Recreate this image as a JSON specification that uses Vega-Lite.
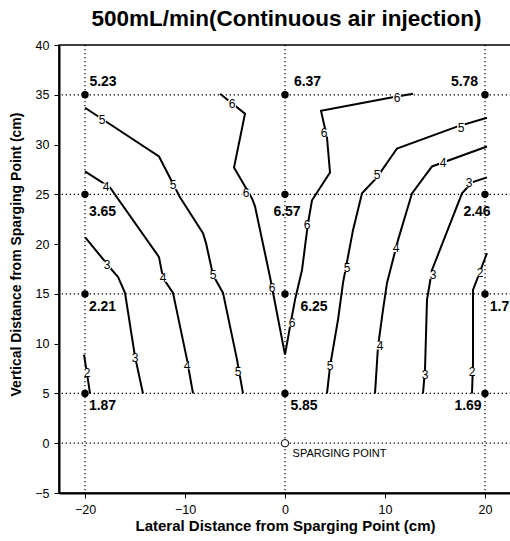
{
  "$schema": "https://vega.github.io/schema/vega-lite/v6.json",
  "width": 452,
  "height": 448,
  "autosize": {"type": "none"},
  "padding": {"left": 59, "top": 45, "right": 0, "bottom": 48},
  "background": "white",
  "config": {
    "font": "Liberation Sans",
    "view": {"stroke": "black", "strokeWidth": 1.5}
  },
  "title": {
    "text": "500mL/min(Continuous air injection)",
    "fontSize": 22.5,
    "fontWeight": "bold",
    "color": "black",
    "anchor": "middle",
    "dx": 1.5,
    "offset": 9
  },
  "datasets": {
    "contours": [
      {"c": "c5L", "o": 1, "x": -20, "y": 33.7},
      {"c": "c5L", "o": 2, "x": -12.6, "y": 28.8},
      {"c": "c5L", "o": 3, "x": -10.5, "y": 24.7},
      {"c": "c5L", "o": 4, "x": -8.2, "y": 21.1},
      {"c": "c5L", "o": 5, "x": -7.9, "y": 20.1},
      {"c": "c5L", "o": 6, "x": -7.2, "y": 16.9},
      {"c": "c5L", "o": 7, "x": -6.2, "y": 15.1},
      {"c": "c5L", "o": 8, "x": -4.8, "y": 8.4},
      {"c": "c5L", "o": 9, "x": -4.2, "y": 5},
      {"c": "c4L", "o": 1, "x": -20, "y": 27.3},
      {"c": "c4L", "o": 2, "x": -17.5, "y": 25.7},
      {"c": "c4L", "o": 3, "x": -12.6, "y": 18.7},
      {"c": "c4L", "o": 4, "x": -12.2, "y": 16.6},
      {"c": "c4L", "o": 5, "x": -11.2, "y": 15.1},
      {"c": "c4L", "o": 6, "x": -9.8, "y": 8.4},
      {"c": "c4L", "o": 7, "x": -9.2, "y": 5},
      {"c": "c3L", "o": 1, "x": -20, "y": 20.7},
      {"c": "c3L", "o": 2, "x": -17.3, "y": 17.4},
      {"c": "c3L", "o": 3, "x": -16.7, "y": 16.7},
      {"c": "c3L", "o": 4, "x": -16, "y": 15.1},
      {"c": "c3L", "o": 5, "x": -15, "y": 8.7},
      {"c": "c3L", "o": 6, "x": -14.2, "y": 5},
      {"c": "c2L", "o": 1, "x": -20.1, "y": 8.9},
      {"c": "c2L", "o": 2, "x": -19.8, "y": 7},
      {"c": "c2L", "o": 3, "x": -19.5, "y": 5},
      {"c": "c6", "o": 1, "x": -6.5, "y": 35.1},
      {"c": "c6", "o": 2, "x": -4, "y": 33.1},
      {"c": "c6", "o": 3, "x": -5.1, "y": 27.7},
      {"c": "c6", "o": 4, "x": -3.3, "y": 24.6},
      {"c": "c6", "o": 5, "x": -3, "y": 23.8},
      {"c": "c6", "o": 6, "x": -1.5, "y": 16.7},
      {"c": "c6", "o": 7, "x": 0, "y": 8.9},
      {"c": "c6", "o": 8, "x": 0.5, "y": 11.7},
      {"c": "c6", "o": 9, "x": 1, "y": 14.4},
      {"c": "c6", "o": 10, "x": 1.7, "y": 17.4},
      {"c": "c6", "o": 11, "x": 2.3, "y": 22.1},
      {"c": "c6", "o": 12, "x": 2.7, "y": 24.4},
      {"c": "c6", "o": 13, "x": 4.5, "y": 27.2},
      {"c": "c6", "o": 14, "x": 4.2, "y": 30.7},
      {"c": "c6", "o": 15, "x": 3.6, "y": 33.4},
      {"c": "c6", "o": 16, "x": 10.5, "y": 34.7},
      {"c": "c6", "o": 17, "x": 12.8, "y": 35.1},
      {"c": "c5R", "o": 1, "x": 4.2, "y": 5},
      {"c": "c5R", "o": 2, "x": 4.5, "y": 7.7},
      {"c": "c5R", "o": 3, "x": 5.3, "y": 12.4},
      {"c": "c5R", "o": 4, "x": 5.8, "y": 16.1},
      {"c": "c5R", "o": 5, "x": 6.8, "y": 21.4},
      {"c": "c5R", "o": 6, "x": 7.7, "y": 25.1},
      {"c": "c5R", "o": 7, "x": 9.2, "y": 26.7},
      {"c": "c5R", "o": 8, "x": 11.2, "y": 29.6},
      {"c": "c5R", "o": 9, "x": 17.2, "y": 31.8},
      {"c": "c5R", "o": 10, "x": 20.2, "y": 32.7},
      {"c": "c4R", "o": 1, "x": 9, "y": 5},
      {"c": "c4R", "o": 2, "x": 9.3, "y": 9.7},
      {"c": "c4R", "o": 3, "x": 9.8, "y": 13.4},
      {"c": "c4R", "o": 4, "x": 10.2, "y": 16.1},
      {"c": "c4R", "o": 5, "x": 11.3, "y": 20.4},
      {"c": "c4R", "o": 6, "x": 12.7, "y": 25.1},
      {"c": "c4R", "o": 7, "x": 14.7, "y": 27.8},
      {"c": "c4R", "o": 8, "x": 20.2, "y": 29.8},
      {"c": "c3R", "o": 1, "x": 13.8, "y": 5},
      {"c": "c3R", "o": 2, "x": 14, "y": 7.4},
      {"c": "c3R", "o": 3, "x": 14.2, "y": 14.4},
      {"c": "c3R", "o": 4, "x": 14.7, "y": 17.4},
      {"c": "c3R", "o": 5, "x": 17.7, "y": 25.1},
      {"c": "c3R", "o": 6, "x": 18.7, "y": 26.2},
      {"c": "c3R", "o": 7, "x": 20.2, "y": 26.7},
      {"c": "c2R", "o": 1, "x": 18.7, "y": 5},
      {"c": "c2R", "o": 2, "x": 18.8, "y": 8},
      {"c": "c2R", "o": 3, "x": 18.8, "y": 15.4},
      {"c": "c2R", "o": 4, "x": 19.3, "y": 16.7},
      {"c": "c2R", "o": 5, "x": 20.2, "y": 19.1}
    ],
    "clabels": [
      {"t": "5", "x": -18.3, "y": 32.5},
      {"t": "5", "x": -11.2, "y": 25.9},
      {"t": "5", "x": -7.2, "y": 16.9},
      {"t": "5", "x": -4.7, "y": 7.2},
      {"t": "4", "x": -17.9, "y": 25.7},
      {"t": "4", "x": -12.2, "y": 16.6},
      {"t": "4", "x": -9.8, "y": 7.8},
      {"t": "3", "x": -17.8, "y": 17.9},
      {"t": "3", "x": -15, "y": 8.6},
      {"t": "2", "x": -19.8, "y": 7.1},
      {"t": "6", "x": -5.3, "y": 34.1},
      {"t": "6", "x": -3.9, "y": 25.1},
      {"t": "6", "x": -1.3, "y": 15.6},
      {"t": "6", "x": 0.7, "y": 12.1},
      {"t": "6", "x": 2.2, "y": 21.9},
      {"t": "6", "x": 3.9, "y": 31.2},
      {"t": "6", "x": 11.2, "y": 34.7},
      {"t": "5", "x": 9.2, "y": 26.9},
      {"t": "5", "x": 6.2, "y": 17.6},
      {"t": "5", "x": 4.5, "y": 7.8},
      {"t": "5", "x": 17.6, "y": 31.7},
      {"t": "4", "x": 15.8, "y": 28.1},
      {"t": "4", "x": 11.1, "y": 19.6},
      {"t": "4", "x": 9.5, "y": 9.8},
      {"t": "3", "x": 18.4, "y": 26.1},
      {"t": "3", "x": 14.8, "y": 16.9},
      {"t": "3", "x": 14, "y": 6.9},
      {"t": "2", "x": 19.5, "y": 17.1},
      {"t": "2", "x": 18.7, "y": 7.2}
    ],
    "hlines": [{"y": 35}, {"y": 25}, {"y": 15}, {"y": 5}, {"y": 0}],
    "vlines": [{"x": -20}, {"x": 0}, {"x": 20}],
    "points": [
      {"x": -20, "y": 35, "v": "5.23", "lx": -18.2, "ly": 36.3},
      {"x": 0, "y": 35, "v": "6.37", "lx": 2.25, "ly": 36.3},
      {"x": 20, "y": 35, "v": "5.78", "lx": 17.95, "ly": 36.3},
      {"x": -20, "y": 25, "v": "3.65", "lx": -18.25, "ly": 23.25},
      {"x": 0, "y": 25, "v": "6.57", "lx": 0.2, "ly": 23.25},
      {"x": 20, "y": 25, "v": "2.46", "lx": 19.2, "ly": 23.25},
      {"x": -20, "y": 15, "v": "2.21", "lx": -18.25, "ly": 13.7},
      {"x": 0, "y": 15, "v": "6.25", "lx": 2.9, "ly": 13.7},
      {"x": 20, "y": 15, "v": "1.7", "lx": 21.45, "ly": 13.7},
      {"x": -20, "y": 5, "v": "1.87", "lx": -18.25, "ly": 3.75},
      {"x": 0, "y": 5, "v": "5.85", "lx": 1.9, "ly": 3.75},
      {"x": 20, "y": 5, "v": "1.69", "lx": 18.3, "ly": 3.75}
    ],
    "origin": [{"x": 0, "y": 0, "t": "SPARGING POINT", "lx": 5.45, "ly": -1.1}]
  },
  "encoding": {
    "x": {
      "field": "x",
      "type": "quantitative",
      "scale": {"domain": [-22.6, 22.6], "nice": false, "zero": false},
      "axis": {
        "values": [-20, -10, 0, 10, 20],
        "grid": false,
        "domainColor": "black",
        "domainWidth": 2,
        "tickColor": "black",
        "tickSize": 5,
        "labelFontSize": 12.5,
        "labelColor": "black",
        "labelPadding": 5,
        "title": "Lateral Distance from Sparging Point (cm)",
        "titleFontSize": 15,
        "titleFontWeight": "bold",
        "titleColor": "black",
        "titlePadding": 3
      }
    },
    "y": {
      "field": "y",
      "type": "quantitative",
      "scale": {"domain": [-5, 40], "nice": false, "zero": false},
      "axis": {
        "values": [-5, 0, 5, 10, 15, 20, 25, 30, 35, 40],
        "grid": false,
        "domainColor": "black",
        "domainWidth": 2,
        "tickColor": "black",
        "tickSize": 5,
        "labelFontSize": 12.5,
        "labelColor": "black",
        "labelPadding": 5,
        "title": "Vertical Distance from Sparging Point (cm)",
        "titleFontSize": 14,
        "titleFontWeight": "bold",
        "titleColor": "black",
        "titleX": -42.5,
        "titleY": 209,
        "titleAlign": "center",
        "titleBaseline": "middle",
        "titleAngle": -90
      }
    }
  },
  "layer": [
    {
      "data": {"name": "hlines"},
      "mark": {"type": "rule", "stroke": "black", "strokeWidth": 1.2, "strokeDash": [1.3, 2.7]},
      "encoding": {"x": null, "y": {"field": "y", "type": "quantitative"}}
    },
    {
      "data": {"name": "vlines"},
      "mark": {"type": "rule", "stroke": "black", "strokeWidth": 1.2, "strokeDash": [1.3, 2.7]},
      "encoding": {"y": null, "x": {"field": "x", "type": "quantitative"}}
    },
    {
      "data": {"name": "contours"},
      "mark": {"type": "line", "stroke": "black", "strokeWidth": 2, "clip": true},
      "encoding": {
        "detail": {"field": "c", "type": "nominal"},
        "order": {"field": "o", "type": "quantitative"}
      }
    },
    {
      "data": {"name": "clabels"},
      "mark": {"type": "point", "shape": "square", "filled": true, "color": "white", "size": 60, "opacity": 1},
      "encoding": {}
    },
    {
      "data": {"name": "clabels"},
      "mark": {"type": "text", "fontSize": 12, "color": "black", "baseline": "middle", "align": "center"},
      "encoding": {"text": {"field": "t"}}
    },
    {
      "data": {"name": "points"},
      "mark": {"type": "circle", "color": "black", "size": 55, "opacity": 1},
      "encoding": {}
    },
    {
      "data": {"name": "points"},
      "mark": {"type": "text", "fontSize": 14, "fontWeight": "bold", "color": "black", "baseline": "middle", "align": "center"},
      "encoding": {
        "x": {"field": "lx", "type": "quantitative"},
        "y": {"field": "ly", "type": "quantitative"},
        "text": {"field": "v"}
      }
    },
    {
      "data": {"name": "origin"},
      "mark": {"type": "point", "shape": "circle", "filled": true, "fill": "white", "stroke": "black", "strokeWidth": 1, "size": 55, "opacity": 1},
      "encoding": {}
    },
    {
      "data": {"name": "origin"},
      "mark": {"type": "text", "fontSize": 11, "color": "black", "baseline": "middle", "align": "center"},
      "encoding": {
        "x": {"field": "lx", "type": "quantitative"},
        "y": {"field": "ly", "type": "quantitative"},
        "text": {"field": "t"}
      }
    }
  ]
}
